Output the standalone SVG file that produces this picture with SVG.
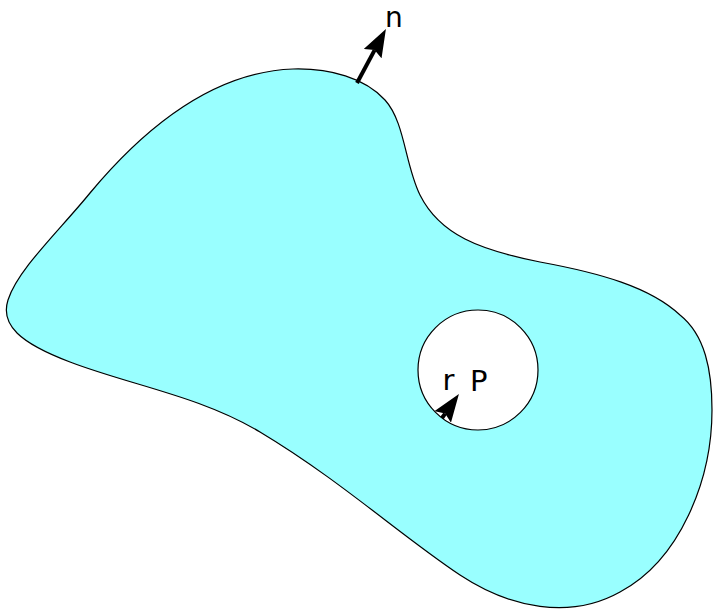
<svg xmlns="http://www.w3.org/2000/svg" width="714" height="612" viewBox="0 0 714 612">
  <style>
    .outline { stroke: #000; stroke-width: 1.2; }
    .region { fill: #99ffff; }
    .hole { fill: #ffffff; }
    .lbl { font-family: "DejaVu Sans", "Liberation Sans", sans-serif; font-size: 29px; fill: #000; }
    .arrow { stroke: #000; stroke-width: 4; fill: none; marker-end: url(#head); }
  </style>
  <defs>
    <marker id="head" viewBox="0 0 7 5" refX="1" refY="2.5" markerWidth="7" markerHeight="5" orient="auto" markerUnits="strokeWidth">
      <path d="M0,0 L7,2.5 L0,5 L1,2.5 Z" fill="#000"/>
    </marker>
  </defs>
  <g id="region">
    <path class="region outline" d="M293,69 C330,68 365,78 385,100 C405,122 405,165 420,195 C440,235 480,250 540,262 C600,273 650,287 680,315 C705,335 712,370 712,410 C712,480 680,560 620,592 C570,620 510,608 460,575 C400,535 340,480 260,432 C200,396 130,385 70,362 C20,343 0,325 8,300 C18,269 60,230 90,193 C140,133 210,72 293,69 Z"/>
  </g>
  <g id="hole">
    <circle class="hole outline" cx="478" cy="370" r="60"/>
  </g>
  <g id="connectors">
    <line class="arrow" x1="357" y1="83" x2="374.6" y2="50.1"/>
    <line class="arrow" x1="442" y1="418" x2="445.1" y2="413.6"/>
  </g>
  <g id="label-n"><text class="lbl" x="385" y="26.5" style="font-size:28px">n</text></g>
  <g id="label-r"><text class="lbl" x="442.5" y="390">r</text></g>
  <g id="label-P"><text class="lbl" x="470" y="391">P</text></g>
</svg>
